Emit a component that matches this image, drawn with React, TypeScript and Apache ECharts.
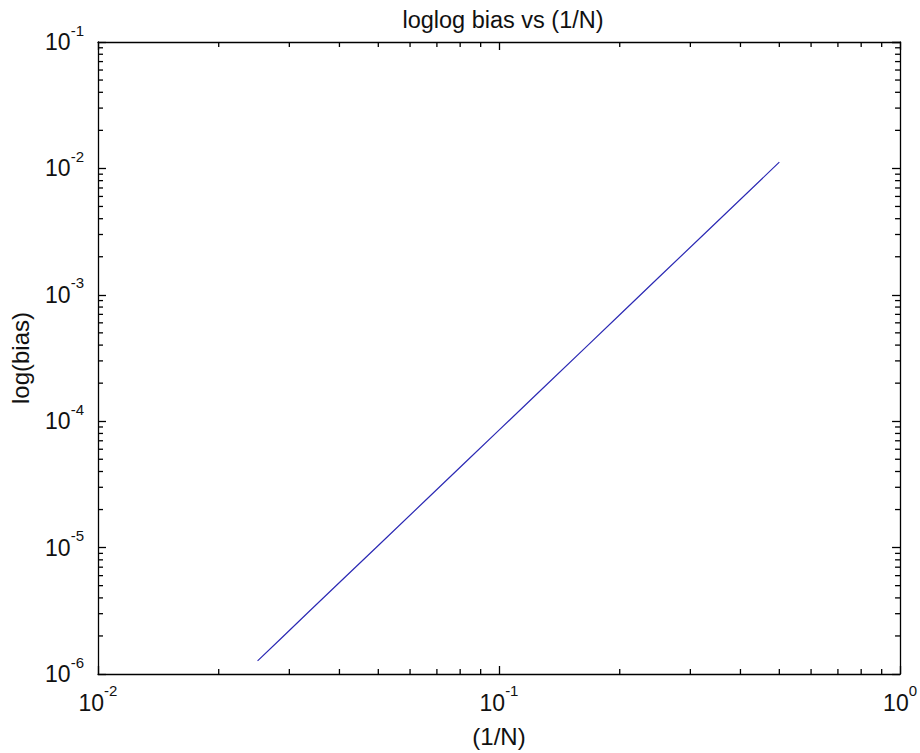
import React, { useEffect, useRef } from "react";
import * as echarts from "echarts";

// 1/N values and measured bias
const invN = [0.5, 0.3333, 0.25, 0.2, 0.1667, 0.125, 0.1, 0.0833, 0.0667, 0.05, 0.04, 0.0333, 0.0286, 0.025];
const bias = [1.12e-2, 3.27e-3, 1.37e-3, 6.95e-4, 4.0e-4, 1.67e-4, 8.5e-5, 4.89e-5, 2.49e-5, 1.04e-5, 5.29e-6, 3.04e-6, 1.91e-6, 1.27e-6];

const X_MIN = 0.01;
const X_MAX = 1;
const Y_MIN = 1e-6;
const Y_MAX = 1e-1;

const xMinorTicks = [0.02, 0.03, 0.04, 0.05, 0.06, 0.07, 0.08, 0.09, 0.2, 0.3, 0.4, 0.5, 0.6, 0.7, 0.8, 0.9];
const yMinorTicks = [
  2e-6, 3e-6, 4e-6, 5e-6, 6e-6, 7e-6, 8e-6, 9e-6,
  2e-5, 3e-5, 4e-5, 5e-5, 6e-5, 7e-5, 8e-5, 9e-5,
  2e-4, 3e-4, 4e-4, 5e-4, 6e-4, 7e-4, 8e-4, 9e-4,
  2e-3, 3e-3, 4e-3, 5e-3, 6e-3, 7e-3, 8e-3, 9e-3,
  2e-2, 3e-2, 4e-2, 5e-2, 6e-2, 7e-2, 8e-2, 9e-2,
];

const TITLE = "loglog bias vs (1/N)";
const X_NAME = "(1/N)";
const Y_NAME = "log(bias)";

const FONT = "'Liberation Sans', Arial, Helvetica, sans-serif";

const powLabel = (v: number) => {
  const e = Math.round(Math.log10(v));
  return `{b|10}{s|${e}}`;
};

const richLabel = {
  b: { fontSize: 23, lineHeight: 31, verticalAlign: "bottom", fontFamily: FONT, color: "#111" },
  s: { fontSize: 15, lineHeight: 31, verticalAlign: "top", fontFamily: FONT, color: "#111" },
};

const MINOR_LEN = 5;

export default function App() {
  const ref = useRef<HTMLDivElement>(null);
  useEffect(() => {
    if (!ref.current) return;
    const chart = echarts.init(ref.current, undefined, { renderer: "svg" });
    const axisLine = { show: true, lineStyle: { color: "#000", width: 1.3 } };
    const majorTick = { show: true, inside: true, length: 8, lineStyle: { color: "#000", width: 1.3 } };
    chart.setOption({
      animation: false,
      backgroundColor: "#fff",
      title: {
        text: TITLE,
        left: 498,
        top: 3,
        textAlign: "center",
        textStyle: { fontSize: 23.5, fontWeight: "normal", color: "#111", fontFamily: FONT },
      },
      grid: { left: 96, right: 18, top: 42, bottom: 79, containLabel: false },
      xAxis: [
        {
          type: "log",
          logBase: 10,
          min: X_MIN,
          max: X_MAX,
          position: "bottom",
          axisLine,
          axisTick: majorTick,
          splitLine: { show: false },
          axisLabel: { formatter: powLabel, rich: richLabel, margin: 9, showMinLabel: true, showMaxLabel: true },
          name: X_NAME,
          nameLocation: "middle",
          nameGap: 50,
          nameTextStyle: { fontSize: 24, color: "#111", fontFamily: FONT },
        },
        {
          type: "log",
          logBase: 10,
          min: X_MIN,
          max: X_MAX,
          position: "top",
          axisLine,
          axisTick: majorTick,
          splitLine: { show: false },
          axisLabel: { show: false },
        },
      ],
      yAxis: [
        {
          type: "log",
          logBase: 10,
          min: Y_MIN,
          max: Y_MAX,
          position: "left",
          axisLine,
          axisTick: majorTick,
          splitLine: { show: false },
          axisLabel: {
            formatter: powLabel,
            rich: richLabel,
            margin: 14,
            padding: [0, 0, 8, 0],
            showMinLabel: true,
            showMaxLabel: true,
          },
          name: Y_NAME,
          nameLocation: "middle",
          nameGap: 66,
          nameTextStyle: { fontSize: 24, color: "#111", fontFamily: FONT },
        },
        {
          type: "log",
          logBase: 10,
          min: Y_MIN,
          max: Y_MAX,
          position: "right",
          axisLine,
          axisTick: majorTick,
          splitLine: { show: false },
          axisLabel: { show: false },
        },
      ],
      series: [
        {
          type: "line",
          xAxisIndex: 0,
          yAxisIndex: 0,
          data: invN.map((x, i) => [x, bias[i]]),
          symbol: "none",
          lineStyle: { color: "#2c2ab4", width: 1.2 },
          z: 3,
        },
        {
          type: "custom",
          xAxisIndex: 0,
          yAxisIndex: 0,
          data: xMinorTicks.map((v) => [v, Y_MIN]),
          renderItem: (_params: any, api: any) => {
            const v = api.value(0);
            const pb = api.coord([v, Y_MIN]);
            const pt = api.coord([v, Y_MAX]);
            const st = { stroke: "#000", lineWidth: 1.3 };
            return {
              type: "group",
              children: [
                { type: "line", shape: { x1: pb[0], y1: pb[1], x2: pb[0], y2: pb[1] - MINOR_LEN }, style: st },
                { type: "line", shape: { x1: pt[0], y1: pt[1], x2: pt[0], y2: pt[1] + MINOR_LEN }, style: st },
              ],
            };
          },
          silent: true,
        },
        {
          type: "custom",
          xAxisIndex: 0,
          yAxisIndex: 0,
          data: yMinorTicks.map((v) => [X_MIN, v]),
          renderItem: (_params: any, api: any) => {
            const v = api.value(1);
            const pl = api.coord([X_MIN, v]);
            const pr = api.coord([X_MAX, v]);
            const st = { stroke: "#000", lineWidth: 1.3 };
            return {
              type: "group",
              children: [
                { type: "line", shape: { x1: pl[0], y1: pl[1], x2: pl[0] + MINOR_LEN, y2: pl[1] }, style: st },
                { type: "line", shape: { x1: pr[0], y1: pr[1], x2: pr[0] - MINOR_LEN, y2: pr[1] }, style: st },
              ],
            };
          },
          silent: true,
        },
      ],
    });
    return () => chart.dispose();
  }, []);
  return (
    <div
      ref={ref}
      style={{ position: "fixed", left: 0, top: 0, width: 920, height: 753, background: "#fff" }}
    />
  );
}
